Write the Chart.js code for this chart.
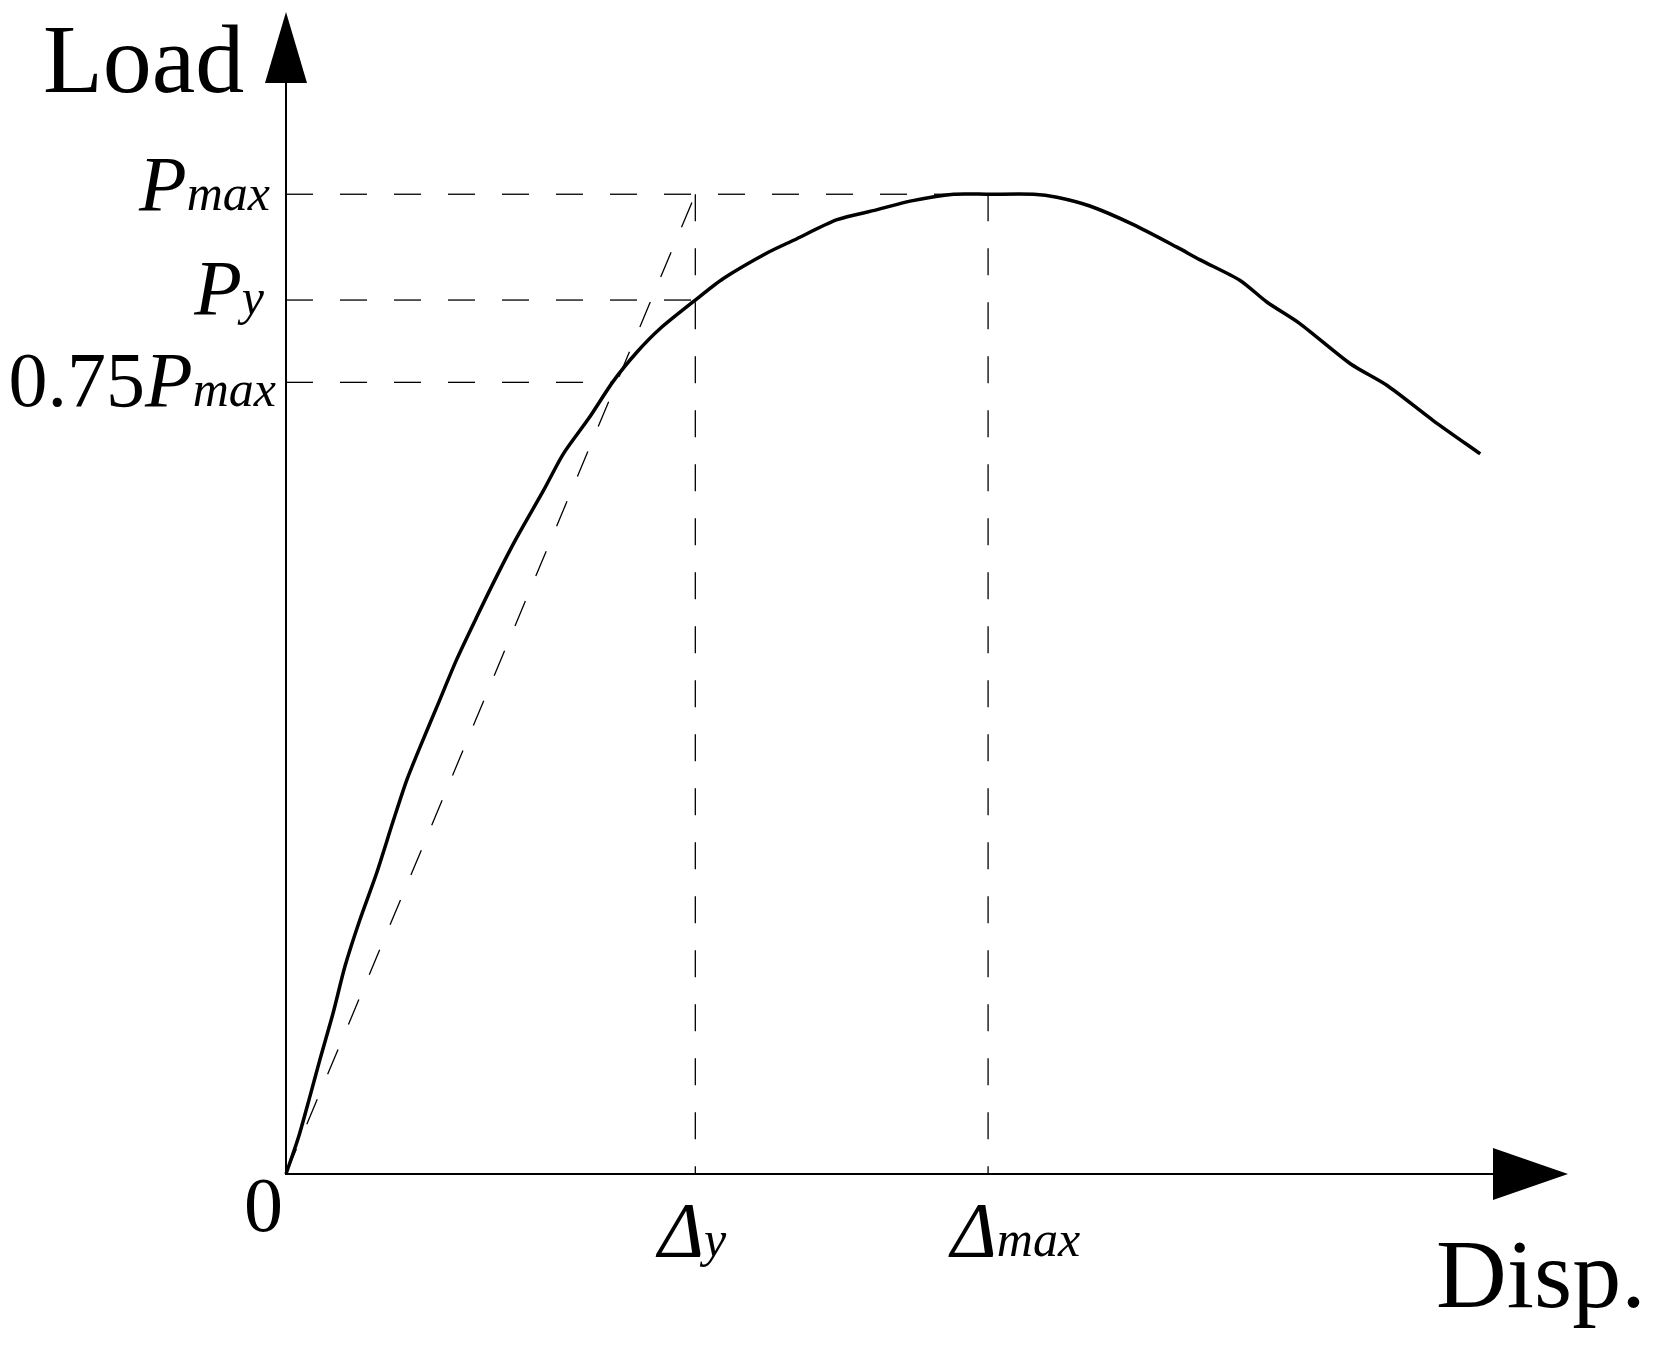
<!DOCTYPE html>
<html>
<head>
<meta charset="utf-8">
<title>Load - Disp. skeleton curve</title>
<script src="https://cdn.jsdelivr.net/npm/chart.js@4.4.1/dist/chart.umd.min.js"></script>
<style>
  html, body { margin: 0; padding: 0; background: #fff; }
  #wrap { width: 1658px; height: 1345px; }
</style>
</head>
<body>
<div id="wrap"><canvas id="chart" width="1658" height="1345"></canvas></div>
<script>
// skeleton curve (disp in % of Δmax, load in % of Pmax)
const disp = [0, 1.8, 3.4, 4.8, 6.7, 8.4, 10.5, 12.9, 15.3, 17.2, 19.1, 21.5, 24.3, 27.2,
  30.0, 32.9, 36.7, 39.5, 43.1, 46.6, 50.0, 53.3, 58.3, 62.3, 68.5, 72.3, 78.5, 84.1,
  88.9, 95.1, 100, 106.5, 109.8, 114.5, 120.7, 126.9, 130.2, 135.9, 139.7, 144.4,
  151.6, 156.8, 163.4, 170.1];
const load = [0, 3.8, 7.9, 11.6, 16.4, 21.2, 25.9, 30.7, 36.1, 40.2, 43.6, 47.7, 52.5, 56.9,
  61.0, 65.0, 69.8, 73.5, 77.1, 80.9, 83.9, 86.3, 89.2, 91.4, 94.0, 95.3, 97.4, 98.4,
  99.3, 100, 100, 100, 99.7, 98.8, 96.9, 94.6, 93.3, 91.2, 89.0, 86.8,
  82.7, 80.5, 76.9, 73.5];

// characteristic points
const dispY = 58.3;
const dispMax = 100;
const loadMax = 100;
const loadY = 89.2;
const load075 = 80.8;   // height of the 0.75Pmax line as drawn
const disp075 = 46.7;   // where that line meets the curve

// tick labels: [plain prefix, italic symbol, italic subscript]
const yTicks = [loadMax, loadY, load075];
const yTickLabels = [["", "P", "max"], ["", "P", "y"], ["0.75", "P", "max"]];
const xTicks = [dispY, dispMax];
const xTickLabels = [["Δ", "y"], ["Δ", "max"]];

const xMax = 182.6;
const yMax = 118.6;

const serif = '"Liberation Serif", "Times New Roman", serif';
const bigFont = '78px ' + serif;
const symFont = 'italic 78px ' + serif;
const subFont = 'italic 50px ' + serif;
const titleFont = '98px ' + serif;
// small hand nudges for the y labels, as placed in the figure
const yLabelNudge = [[0, 16], [-6, 14], [6, 24]];

function pts(xs, ys) {
  return xs.map((v, i) => ({ x: v, y: ys[i] }));
}

function dashed(data) {
  return {
    data: data,
    borderColor: '#000',
    borderWidth: 1.3,
    borderDash: [27, 27],
    pointRadius: 0,
    tension: 0,
    clip: false
  };
}

function drawParts(ctx, parts, x, baseline, alignRight) {
  const fonts = [bigFont, symFont, subFont];
  let widths = parts.map((p, i) => { ctx.font = fonts[i]; return ctx.measureText(p).width; });
  let total = widths.reduce((a, b) => a + b, 0);
  let cx = alignRight ? x - total : x;
  parts.forEach((p, i) => {
    ctx.font = fonts[i];
    ctx.fillText(p, cx, baseline);
    cx += widths[i];
  });
}

const axesAndLabels = {
  id: 'axesAndLabels',
  afterDatasetsDraw(chart) {
    const { ctx, chartArea, scales } = chart;
    const xs = scales.x, ys = scales.y;
    const x0 = xs.getPixelForValue(0);
    const y0 = ys.getPixelForValue(0);
    const top = chartArea.top;
    const right = chartArea.right;
    ctx.save();
    ctx.strokeStyle = '#000';
    ctx.fillStyle = '#000';
    ctx.lineWidth = 2;

    // vertical axis with arrow
    ctx.beginPath();
    ctx.moveTo(x0, y0 + 1);
    ctx.lineTo(x0, top + 70);
    ctx.stroke();
    ctx.beginPath();
    ctx.moveTo(x0, top);
    ctx.lineTo(x0 - 21, top + 71);
    ctx.lineTo(x0 + 21, top + 71);
    ctx.closePath();
    ctx.fill();

    // horizontal axis with arrow
    ctx.beginPath();
    ctx.moveTo(x0 - 1, y0);
    ctx.lineTo(right - 74, y0);
    ctx.stroke();
    ctx.beginPath();
    ctx.moveTo(right, y0);
    ctx.lineTo(right - 75, y0 - 26);
    ctx.lineTo(right - 75, y0 + 26);
    ctx.closePath();
    ctx.fill();

    ctx.textBaseline = 'alphabetic';
    ctx.textAlign = 'left';

    // axis titles
    ctx.font = titleFont;
    ctx.fillText('Load', x0 - 243, top + 80);
    ctx.fillText('Disp.', right - 132, y0 + 133);

    // origin
    drawParts(ctx, ['0'], x0 - 3, y0 + 57, true);

    // y tick labels
    yTicks.forEach((v, i) => {
      const py = ys.getPixelForValue(v);
      const n = yLabelNudge[i];
      drawParts(ctx, yTickLabels[i], x0 - 16 + n[0], py + n[1], true);
    });

    // x tick labels
    xTicks.forEach((v, i) => {
      const px = xs.getPixelForValue(v);
      const parts = xTickLabels[i];
      drawParts(ctx, ['', parts[0], parts[1]], px - 37, y0 + 82, false);
    });
    ctx.restore();
  }
};

new Chart(document.getElementById('chart'), {
  type: 'line',
  data: {
    datasets: [
      {
        data: pts(disp, load),
        borderColor: '#000',
        borderWidth: 3.5,
        pointRadius: 0,
        tension: 0.25,
        clip: false
      },
      dashed([{ x: 0, y: 0 }, { x: dispY, y: loadMax }]),
      dashed([{ x: 0, y: loadMax }, { x: dispMax, y: loadMax }]),
      dashed([{ x: 0, y: loadY }, { x: dispY, y: loadY }]),
      dashed([{ x: 0, y: load075 }, { x: disp075, y: load075 }]),
      dashed([{ x: dispY, y: loadMax }, { x: dispY, y: 0 }]),
      dashed([{ x: dispMax, y: loadMax }, { x: dispMax, y: 0 }])
    ]
  },
  options: {
    responsive: false,
    animation: false,
    devicePixelRatio: 1,
    layout: { padding: { left: 286, right: 90, top: 12, bottom: 171 } },
    scales: {
      x: { type: 'linear', min: 0, max: xMax, display: false },
      y: { type: 'linear', min: 0, max: yMax, display: false }
    },
    plugins: {
      legend: { display: false },
      tooltip: { enabled: false }
    }
  },
  plugins: [axesAndLabels]
});
</script>
</body>
</html>
